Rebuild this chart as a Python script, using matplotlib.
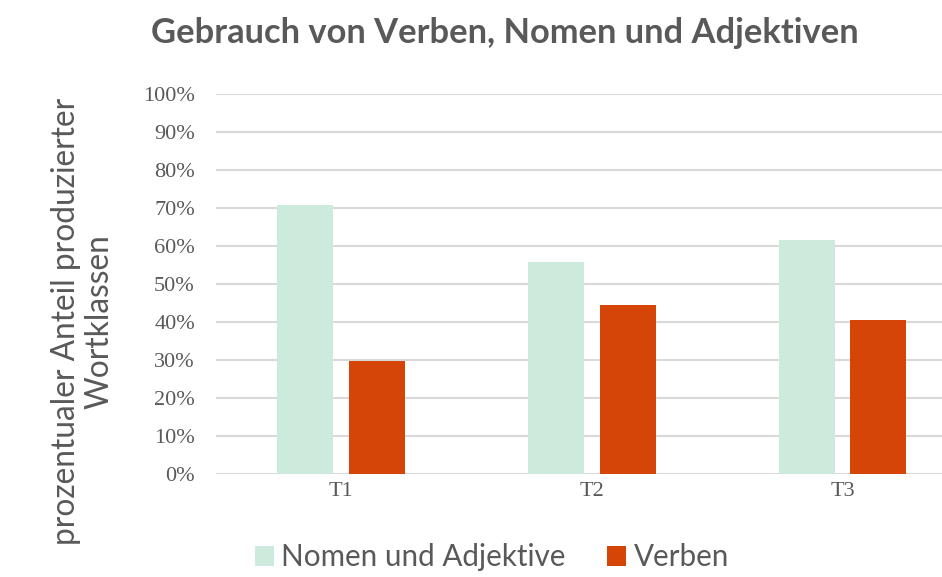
import matplotlib.pyplot as plt
import numpy as np
from matplotlib.ticker import FuncFormatter

# Data (percent)
categories = ['T1', 'T2', 'T3']
nomen_adjektive = [70.8, 55.7, 61.5]
verben = [29.8, 44.4, 40.5]
series_labels = ['Nomen und Adjektive', 'Verben']

text_color = '#595959'
grid_color = '#D9D9D9'
nomen_color = '#CCEBDC'
verben_color = '#D64508'

fig = plt.figure(figsize=(9.42, 5.77), dpi=100)
ax = fig.add_axes([0.229, 0.1785, 0.771, 0.659])

x = np.arange(len(categories))
width = 0.223
offset = 0.1425
ax.bar(x - offset, nomen_adjektive, width, color=nomen_color, label=series_labels[0], zorder=3)
ax.bar(x + offset, verben, width, color=verben_color, label=series_labels[1], zorder=3)

ax.set_xlim(-0.5, 2.396)
ax.set_ylim(0, 100)
ax.set_yticks(np.arange(0, 101, 10))
ax.yaxis.set_major_formatter(FuncFormatter(lambda v, p: f'{v:.0f}%'))
ax.set_xticks(x)
ax.set_xticklabels(categories)

# gridlines only, no frame
ax.grid(axis='y', color=grid_color, linewidth=1.5, zorder=0)
for s in ax.spines.values():
    s.set_visible(False)
ax.tick_params(length=0, colors=text_color)
ax.tick_params(axis='y', pad=15)
ax.tick_params(axis='x', pad=6)
for lab in ax.get_yticklabels() + ax.get_xticklabels():
    lab.set_fontfamily('Liberation Serif')
    lab.set_fontsize(16)
    lab.set_color(text_color)

fig.text(0.536, 0.943, 'Gebrauch von Verben, Nomen und Adjektiven', ha='center', va='center',
         fontsize=24.8, fontweight='bold', family='Lato', color=text_color)

fig.text(0.088, 0.443, 'prozentualer Anteil produzierter\nWortklassen', ha='center', va='center',
         rotation=90, fontsize=22.8, family='Lato', color=text_color, linespacing=1.12)

leg = fig.legend(loc='center', bbox_to_anchor=(0.522, 0.034), ncol=2, frameon=False,
                 prop={'family': 'Lato', 'size': 21.3}, handlelength=0.65, handleheight=0.65,
                 handletextpad=0.25, columnspacing=1.4, labelcolor=text_color)

fig.savefig('out.png', dpi=100)
